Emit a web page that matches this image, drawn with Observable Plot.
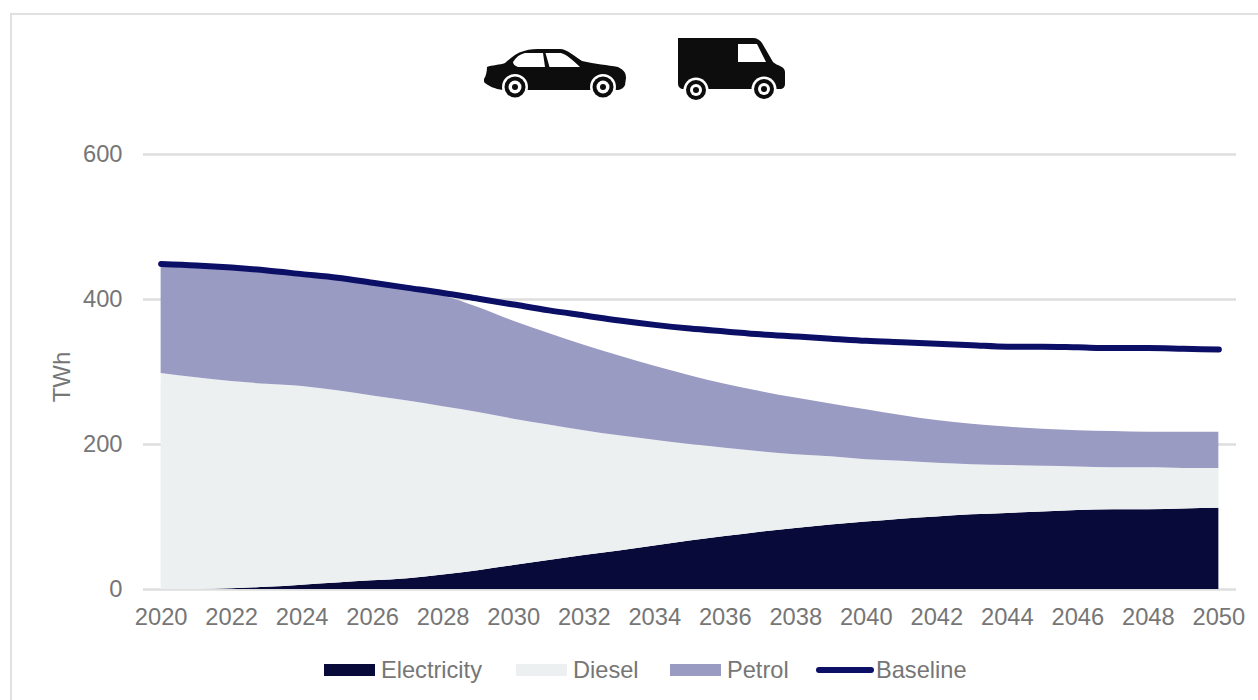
<!DOCTYPE html>
<html>
<head>
<meta charset="utf-8">
<script src="https://cdn.jsdelivr.net/npm/d3@7"></script>
<script src="https://cdn.jsdelivr.net/npm/@observablehq/plot@0.6"></script>
<style>
  html, body { margin: 0; padding: 0; background: #fff; }
  #page { position: relative; width: 1258px; height: 700px; overflow: hidden; font-family: "Liberation Sans", Arial, sans-serif; }
  #frame { position: absolute; left: 9.5px; top: 13px; width: 1300px; height: 720px; border: 2.5px solid #e0e0e0; box-sizing: border-box; }
  #chart { position: absolute; left: 0; top: 0; }
  #icons { position: absolute; left: 0; top: 0; }
  #legend { position: absolute; left: 0; top: 640px; width: 1258px; height: 60px; }
  #legend span { position: absolute; top: 16px; font-size: 23.6px; line-height: 28px; color: #767676; white-space: nowrap; }
  #legend i { position: absolute; display: block; }
</style>
</head>
<body>
<div id="page">
  <div id="frame"></div>
  <div id="chart"></div>
  <svg id="icons" width="1258" height="110" viewBox="0 0 1258 110">
    <!-- car -->
    <path fill="#0d0d0d" d="M484 79 C486 76 487 71 487 67 C492 65 500 65 505 63 C511 58 516 53 524 51 C530 49 536 49 542 49 L560 49 C567 49 574 56 582 61 C595 64 608 65 618 67 C624 70 626 73 626 78 L625 85 C624 88 620 90 617 90 L503 90 C495 89 488 86 484 82 Z"/>
    <path fill="#fff" d="M513 62 C516 57 520 54 525 53 L543 53 L545 67 L518 67 C515 66 513 64 513 62 Z M545.5 53 L561 53 C566 54 574 61 580 67 L549.5 67 Z"/>
    <circle cx="515" cy="87" r="13" fill="#fff"/><circle cx="515" cy="87" r="10.5" fill="#0d0d0d"/><circle cx="515" cy="87" r="6.5" fill="#fff"/><circle cx="515" cy="87" r="3" fill="#0d0d0d"/>
    <circle cx="603" cy="87" r="13" fill="#fff"/><circle cx="603" cy="87" r="10.5" fill="#0d0d0d"/><circle cx="603" cy="87" r="6.5" fill="#fff"/><circle cx="603" cy="87" r="3" fill="#0d0d0d"/>
    <!-- van -->
    <path fill="#0d0d0d" d="M678 38 L753 38 C757 38 760 40 762 43 L773 62 C777 66 785 66 785 72 L785 84 C785 87 783 89 780 89 L684 89 C680 89 678 87 678 83 Z"/>
    <path fill="#fff" d="M738 44 L757 44 L766 62 L738 62 Z"/>
    <circle cx="696" cy="90" r="12.5" fill="#fff"/><circle cx="696" cy="90" r="10" fill="#0d0d0d"/><circle cx="696" cy="90" r="6" fill="#fff"/><circle cx="696" cy="90" r="3" fill="#0d0d0d"/>
    <circle cx="764" cy="89" r="12.5" fill="#fff"/><circle cx="764" cy="89" r="10" fill="#0d0d0d"/><circle cx="764" cy="89" r="6" fill="#fff"/><circle cx="764" cy="89" r="3" fill="#0d0d0d"/>
  </svg>
  <div id="legend"></div>
</div>
<script>
// Road transport energy demand, TWh, by fuel for each year 2020-2050.
// The three fuel arrays hold cumulative tops of the stacked bands.
const years = d3.range(2020, 2051);
const electricity = [0,0,1,3,6,9,12,15,20,26,33,40,47,53,60,67,73,79,84,89,93,97,100,103,105,107,109,110,110,111,112];
const diesel = [298,292,287,283,280,274,267,260,252,244,235,227,219,212,206,200,195,190,186,183,179,177,174,172,171,170,169,168,168,167,167];
const petrol = [446,445,442,438,433,427,420,413,405,389,370,353,337,322,308,295,283,273,264,256,248,240,233,228,224,221,219,218,217,217,217];
const baseline = [449,447,444,440,435,430,423,416,409,401,393,385,378,371,365,360,356,352,349,346,343,341,339,337,335,335,334,333,333,332,331];

const colors = {Electricity: "#080a3a", Diesel: "#edf0f1", Petrol: "#9a9bc3", Baseline: "#0c0f66"};
const yTicks = [0, 200, 400, 600];
const xTicks = d3.range(2020, 2051, 2);

const table = years.map((year, i) => ({
  year, electricity: electricity[i], diesel: diesel[i], petrol: petrol[i], baseline: baseline[i]
}));

const chart = Plot.plot({
  width: 1258,
  height: 640,
  marginLeft: 143,
  marginRight: 22,
  marginTop: 154,
  marginBottom: 51,
  style: {background: "transparent", fontFamily: "'Liberation Sans', Arial, sans-serif", fontSize: "23.7px", color: "#767676"},
  x: {domain: [2019.5, 2050.5], ticks: xTicks, tickFormat: d3.format("d"), tickSize: 0, tickPadding: 19, label: null},
  y: {domain: [0, 600], ticks: yTicks, tickSize: 0, tickPadding: 21, label: null},
  marks: [
    Plot.ruleY(yTicks, {stroke: "#dedede", strokeWidth: 2.5}),
    Plot.areaY(table, {x: "year", y1: 0, y2: "electricity", fill: colors.Electricity, curve: "monotone-x"}),
    Plot.areaY(table, {x: "year", y1: "electricity", y2: "diesel", fill: colors.Diesel, curve: "monotone-x"}),
    Plot.areaY(table, {x: "year", y1: "diesel", y2: "petrol", fill: colors.Petrol, curve: "monotone-x"}),
    Plot.lineY(table, {x: "year", y: "baseline", stroke: colors.Baseline, strokeWidth: 6, strokeLinecap: "round", curve: "monotone-x"}),
    Plot.text(["TWh"], {frameAnchor: "left", textAnchor: "middle", dx: -81, dy: 5, rotate: -90, fill: "#767676", fontSize: 24})
  ]
});
document.getElementById("chart").append(chart);

// Legend row: swatches for the areas, a short stroke for the baseline.
const legend = document.getElementById("legend");
const legendItems = [
  {name: "Electricity", at: 324, text: 381},
  {name: "Diesel", at: 516, text: 573},
  {name: "Petrol", at: 670, text: 727},
  {name: "Baseline", at: 816, text: 876, line: true}
];
for (const item of legendItems) {
  const mark = document.createElement("i");
  mark.style.left = item.at + "px";
  mark.style.background = colors[item.name];
  if (item.line) {
    mark.style.top = "27px"; mark.style.width = "58px"; mark.style.height = "6px"; mark.style.borderRadius = "3px";
  } else {
    mark.style.top = "24px"; mark.style.width = "51px"; mark.style.height = "12px";
  }
  legend.append(mark);
  const label = document.createElement("span");
  label.textContent = item.name;
  label.style.left = item.text + "px";
  legend.append(label);
}
</script>
</body>
</html>
